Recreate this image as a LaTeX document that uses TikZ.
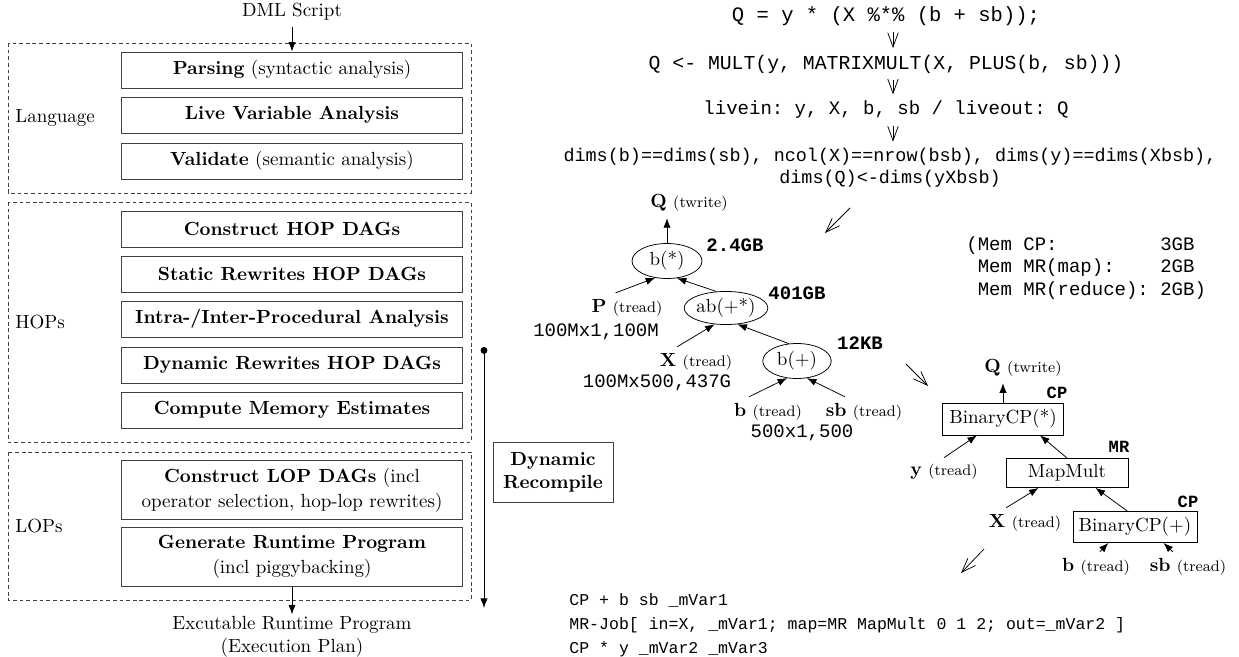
\documentclass[tikz,border=0pt]{standalone}
\usepackage{fontspec}
\setmonofont{Liberation Mono}
\usetikzlibrary{arrows.meta,shapes.geometric}

\newcommand{\opkind}[1]{{\fontsize{8}{9.5}\selectfont(#1)}}

\begin{document}
\begin{tikzpicture}[x=0.526pt, y=-0.526pt,
  >={Latex[length=5pt,width=3.8pt]},
  phase/.style={draw=black!75, minimum width=179pt, minimum height=19pt, inner sep=1pt, align=center},
  group/.style={draw=black!75, dash pattern=on 2pt off 1.5pt},
  derive/.style={-{Straight Barb[length=7.5pt,width=5.5pt]}},
  hop/.style={draw, ellipse, inner sep=0pt},
  lop/.style={draw, rectangle, inner sep=0pt},
  memest/.style={font=\ttfamily\bfseries\fontsize{10}{12}\selectfont, inner sep=1pt},
  exectype/.style={font=\ttfamily\bfseries\fontsize{9}{11}\selectfont, inner sep=1pt},
  dimtxt/.style={font=\ttfamily\fontsize{10}{12}\selectfont, inner sep=1pt}]
 \useasboundingbox (0,0) rectangle (1239,657);

 % compilation chain
 \node (dml) at (292,12) {DML Script};
 \draw[group] (8,43) rectangle (471,193);
 \node[anchor=west, inner sep=0] (lang) at (15,118) {Language};
 \node[phase] (parse) at (292,70) {\textbf{Parsing} (syntactic analysis)};
 \node[phase] (live) at (292,115) {\textbf{Live Variable Analysis}};
 \node[phase] (valid) at (292,161) {\textbf{Validate} (semantic analysis)};

 \draw[group] (8,202) rectangle (471,442);
 \node[anchor=west, inner sep=0] (hops) at (15,322) {HOPs};
 \node[phase] (hopdag) at (292,229) {\textbf{Construct HOP DAGs}};
 \node[phase] (strw) at (292,274) {\textbf{Static Rewrites HOP DAGs}};
 \node[phase] (ipa) at (292,319) {\textbf{Intra-/Inter-Procedural Analysis}};
 \node[phase] (dyrw) at (292,365) {\textbf{Dynamic Rewrites HOP DAGs}};
 \node[phase] (memest) at (292,410) {\textbf{Compute Memory Estimates}};

 \draw[group] (8,452) rectangle (471,600);
 \node[anchor=west, inner sep=0] (lops) at (15,526) {LOPs};
 \node[phase, minimum height=31pt] (lopdag) at (292,490) {\textbf{Construct LOP DAGs} (incl\\[1pt]operator selection, hop-lop rewrites)};
 \node[phase, minimum height=31pt] (gen) at (292,557) {\textbf{Generate Runtime Program}\\[1pt](incl piggybacking)};
 \node[align=center, inner sep=1pt] (exec) at (292,637) {Excutable Runtime Program\\(Execution Plan)};

 \path[->] (dml) edge (parse)
  (gen) edge (exec);

 % recompilation
 \coordinate (rcfrom) at (484,347);
 \coordinate (rcto) at (484,608);
 \draw[{Circle[length=3.6pt]}->] (rcfrom) -- (rcto);
 \node[draw=black!75, align=center, font=\bfseries, minimum width=63pt, minimum height=31.6pt] (recomp) at (553,472) {Dynamic\\Recompile};

 % running example
 \coordinate (spine) at (893,0);
 \node[font=\ttfamily\fontsize{10.8}{13}\selectfont] (src) at (886,16) {Q = y * (X \%*\% (b + sb));};
 \node[font=\ttfamily\fontsize{10.4}{13}\selectfont] (parsed) at (886,64) {Q <- MULT(y, MATRIXMULT(X, PLUS(b, sb)))};
 \node[font=\ttfamily\fontsize{10}{12}\selectfont] (lva) at (886,110) {livein: y, X, b, sb / liveout: Q};
 \node[font=\ttfamily\fontsize{9.7}{11.6}\selectfont, align=center] (checks) at (890,168) {dims(b)==dims(sb), ncol(X)==nrow(bsb), dims(y)==dims(Xbsb),\\dims(Q)<-dims(yXbsb)};
 \path[derive] (src.south -| spine) edge (parsed.north -| spine)
  (parsed.south -| spine) edge (lva.north -| spine)
  (lva.south -| spine) edge (checks.north -| spine);

 \coordinate (d1a) at (850,208);
 \coordinate (d1b) at (825,233);
 \coordinate (d2a) at (906,364);
 \coordinate (d2b) at (928,386);
 \coordinate (d3a) at (984,549);
 \coordinate (d3b) at (961,573);
 \path[derive] (d1a) edge (d1b)
  (d2a) edge (d2b)
  (d3a) edge (d3b);

 % HOP DAG
 \node (qout) at (689,203) {\textbf{Q} \opkind{twrite}};
 \node[hop, minimum width=36.8pt, minimum height=18.4pt] (bmul) at (667,261) {b(*)};
 \node[memest] (est1) at (735,245) {2.4GB};
 \node (pin) at (627,308) {\textbf{P} \opkind{tread}};
 \node[dimtxt] (pdim) at (596,332) {100Mx1,100M};
 \node[hop, minimum width=32.6pt, minimum height=17.4pt] (abmm) at (726,308) {ab(+*)};
 \node[memest] (est2) at (797,293) {401GB};
 \node (xin) at (696,362) {\textbf{X} \opkind{tread}};
 \node[dimtxt] (xdim) at (657,383) {100Mx500,437G};
 \node[hop, minimum width=36pt, minimum height=18.4pt] (bplus) at (797,361) {b(+)};
 \node[memest] (est3) at (860,343) {12KB};
 \node (bin) at (768,412) {\textbf{b} \opkind{tread}};
 \node (sbin) at (864,412) {\textbf{sb} \opkind{tread}};
 \node[dimtxt] (bdim) at (802,433) {500x1,500};

 \path[->] (bmul.north) edge (bmul.north |- qout.south)
  ([xshift=-6pt]pin.north) edge (bmul.235)
  (abmm.120) edge (bmul.300)
  ([xshift=-10pt]xin.north) edge (abmm.235)
  (bplus.115) edge (abmm.305)
  ([xshift=-10pt]bin.north) edge (bplus.240)
  ([xshift=-10pt]sbin.north) edge (bplus.300);

 \node[anchor=west, align=left, inner sep=0, font=\ttfamily\fontsize{10}{11.8}\selectfont] (memcfg) at (966,268)
  {(Mem CP:\phantom{xxxxxxxxx}3GB\\\phantom{(}Mem MR(map):\phantom{xxxx}2GB\\\phantom{(}Mem MR(reduce):\phantom{x}2GB)};

 % LOP DAG
 \node (qout2) at (1023,368) {\textbf{Q} \opkind{twrite}};
 \node[lop, minimum width=63.7pt, minimum height=16.8pt] (cpmul) at (1003,419) {BinaryCP(*)};
 \node[exectype] (cp1) at (1057,393) {CP};
 \node (yin) at (944,472) {\textbf{y} \opkind{tread}};
 \node[lop, minimum width=64.2pt, minimum height=15.3pt] (mapmm) at (1067,473) {MapMult};
 \node[exectype] (mr) at (1119,447) {MR};
 \node (xin2) at (1025,523) {\textbf{X} \opkind{tread}};
 \node[lop, minimum width=65.3pt, minimum height=16.3pt] (cpplus) at (1135,527) {BinaryCP(+)};
 \node[exectype] (cp2) at (1188,502) {CP};
 \node (bin2) at (1096,567) {\textbf{b} \opkind{tread}};
 \node (sbin2) at (1188,567) {\textbf{sb} \opkind{tread}};

 \path[->] (cpmul.north) edge (cpmul.north |- qout2.south)
  (yin.north) edge ([xshift=-13.7pt]cpmul.south)
  (mapmm.north) edge ([xshift=19.5pt]cpmul.south)
  ([xshift=-10pt]xin2.north) edge ([xshift=-15pt]mapmm.south)
  ([xshift=-4pt]cpplus.north) edge ([xshift=15pt]mapmm.south)
  ([xshift=2pt]bin2.north) edge ([xshift=-14pt]cpplus.south)
  ([xshift=-8pt]sbin2.north) edge ([xshift=15pt]cpplus.south);

 % runtime program
 \node[anchor=west, align=left, inner sep=0, font=\ttfamily\fontsize{8.7}{12.6}\selectfont] (rtcode) at (569,625)
  {CP + b sb \_mVar1\\MR-Job[ in=X, \_mVar1; map=MR MapMult 0 1 2; out=\_mVar2 ]\\CP * y \_mVar2 \_mVar3};
\end{tikzpicture}
\end{document}
